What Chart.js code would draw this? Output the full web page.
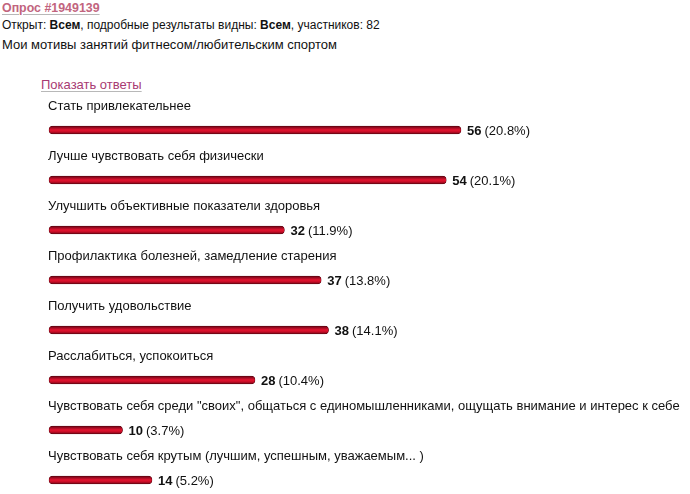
<!DOCTYPE html>
<html>
<head>
<meta charset="utf-8">
<script src="https://cdn.jsdelivr.net/npm/chart.js@4/dist/chart.umd.min.js"></script>
<style>
  html, body { margin:0; padding:0; width:690px; height:494px; overflow:hidden; background:#fff; }
  body { font-family: "Liberation Sans", Arial, sans-serif; font-size:12px; color:#111; }
  .t { position:absolute; white-space:nowrap; line-height:14px; }
  #title { left:2px; top:1px; font-weight:bold; font-size:12.4px; color:#c2647e; text-decoration:underline; text-decoration-color:#b8b8b8; text-underline-offset:2px; }
  #l2 { left:2px; top:18px; }
  #l3 { left:2px; top:38px; font-size:13px; }
  #show { left:41px; top:78px; font-size:13px; color:#a83a72; text-decoration:underline; text-decoration-color:#b8b8b8; text-underline-offset:2px; }
  #wrap { position:absolute; left:0; top:0; width:690px; height:494px; }
</style>
</head>
<body>
<div class="t" id="title">Опрос #1949139</div>
<div class="t" id="l2">Открыт: <b>Всем</b>, подробные результаты видны: <b>Всем</b>, участников: 82</div>
<div class="t" id="l3">Мои мотивы занятий фитнесом/любительским спортом</div>
<div class="t" id="show">Показать ответы</div>
<div id="wrap"><canvas id="c" width="690" height="494"></canvas></div>
<script>
const categories = [
  "Стать привлекательнее",
  "Лучше чувствовать себя физически",
  "Улучшить объективные показатели здоровья",
  "Профилактика болезней, замедление старения",
  "Получить удовольствие",
  "Расслабиться, успокоиться",
  "Чувствовать себя среди \"своих\", общаться с единомышленниками, ощущать внимание и интерес к себе",
  "Чувствовать себя крутым (лучшим, успешным, уважаемым... )"
];
const votes = [56, 54, 32, 37, 38, 28, 10, 14];
const percents = ["20.8%", "20.1%", "11.9%", "13.8%", "14.1%", "10.4%", "3.7%", "5.2%"];

const FONT = '"Liberation Sans", Arial, sans-serif';

const labelPlugin = {
  id: 'pollLabels',
  afterDatasetsDraw(chart) {
    const ctx = chart.ctx;
    const meta = chart.getDatasetMeta(0);
    ctx.save();
    ctx.textBaseline = 'middle';
    meta.data.forEach((bar, i) => {
      ctx.font = '13px ' + FONT;
      ctx.fillStyle = '#111';
      ctx.textAlign = 'left';
      ctx.fillText(categories[i], chart.chartArea.left - 1, bar.y - 24);
      let x = bar.x + 6;
      ctx.font = 'bold 13px ' + FONT;
      const num = String(votes[i]);
      ctx.fillText(num, x, bar.y + 1);
      x += ctx.measureText(num).width + 3;
      ctx.font = '13px ' + FONT;
      ctx.fillText('(' + percents[i] + ')', x, bar.y + 1);
    });
    ctx.restore();
  }
};

function barGradient(context) {
  const chart = context.chart;
  if (!chart.chartArea || !chart.scales.y) return '#c8102a';
  const y = chart.scales.y.getPixelForValue(context.dataIndex);
  const g = chart.ctx.createLinearGradient(0, y - 4, 0, y + 4);
  g.addColorStop(0, '#5e0512');
  g.addColorStop(0.2, '#9a0a20');
  g.addColorStop(0.5, '#e5142f');
  g.addColorStop(0.75, '#c40c26');
  g.addColorStop(1, '#660612');
  return g;
}

new Chart(document.getElementById('c'), {
  type: 'bar',
  data: {
    labels: categories,
    datasets: [{
      data: votes,
      backgroundColor: barGradient,
      borderColor: '#5a0410',
      borderWidth: 0.6,
      borderSkipped: false,
      borderRadius: 4,
      barThickness: 8,
      clip: false
    }]
  },
  options: {
    indexAxis: 'y',
    responsive: false,
    animation: false,
    events: [],
    layout: { padding: { left: 49, right: 52.4, top: 130, bottom: 14 } },
    plugins: { legend: { display: false }, tooltip: { enabled: false } },
    scales: {
      x: { display: false, min: 0, max: 80 },
      y: { display: false, offset: false }
    }
  },
  plugins: [labelPlugin]
});
</script>
</body>
</html>
